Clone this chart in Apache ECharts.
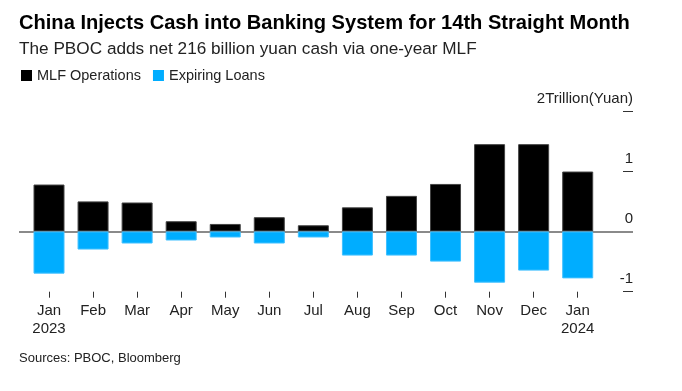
<!DOCTYPE html>
<html>
<head>
<meta charset="utf-8">
<script src="https://cdn.jsdelivr.net/npm/echarts@6/dist/echarts.min.js"></script>
<style>html,body{margin:0;padding:0;background:#fff;}#c{width:682px;height:391px;}</style>
</head>
<body>
<div id="c"></div>
<script>
var months = ['Jan\n2023','Feb','Mar','Apr','May','Jun','Jul','Aug','Sep','Oct','Nov','Dec','Jan\n2024'];
var mlfOperations = [0.779, 0.499, 0.481, 0.170, 0.125, 0.237, 0.103, 0.401, 0.591, 0.789, 1.450, 1.450, 0.995];
var expiringLoans = [-0.700, -0.300, -0.200, -0.150, -0.100, -0.200, -0.100, -0.400, -0.400, -0.500, -0.850, -0.650, -0.779];
var yTicks = [-1, 0, 1, 2];

var idx = months.map(function(_, i){ return i; });
var FONT = 'Liberation Sans, Arial, sans-serif';
var chart = echarts.init(document.getElementById('c'), null, {renderer:'canvas'});
chart.setOption({
  animation: false,
  backgroundColor: '#fff',
  textStyle: {fontFamily: FONT},
  title: [
    {text: 'China Injects Cash into Banking System for 14th Straight Month', left: 19, top: 13, padding: 0,
     textStyle: {fontFamily: FONT, fontSize: 20.1, fontWeight: 'bold', color: '#000'}},
    {text: 'The PBOC adds net 216 billion yuan cash via one-year MLF', left: 19, top: 41, padding: 0,
     textStyle: {fontFamily: FONT, fontSize: 17.2, fontWeight: 'normal', color: '#222'}},
    {text: 'Sources: PBOC, Bloomberg', left: 19, top: 352, padding: 0,
     textStyle: {fontFamily: FONT, fontSize: 13, fontWeight: 'normal', color: '#222'}}
  ],
  legend: {
    left: 21, top: 68, padding: 0, itemWidth: 11, itemHeight: 11, itemGap: 12, icon: 'rect',
    itemStyle: {borderWidth: 0},
    textStyle: {fontFamily: FONT, fontSize: 14.5, color: '#222'},
    data: ['MLF Operations', 'Expiring Loans']
  },
  grid: {left: 19, right: 49, top: 111, bottom: 99.3, containLabel: false},
  xAxis: {
    type: 'value', min: -0.681, max: 13.255,
    splitLine: {show: false},
    axisLine: {show: true, onZero: false, lineStyle: {opacity: 0}},
    axisTick: {show: true, length: 6, lineStyle: {color: '#333', width: 1}, customValues: idx},
    axisLabel: {show: true, customValues: idx, margin: 10, fontSize: 15, lineHeight: 18, color: '#222',
      formatter: function(v){ return months[Math.round(v)]; }}
  },
  yAxis: {
    type: 'value', position: 'right', min: -1, max: 2, interval: 1,
    splitLine: {show: false},
    axisLine: {show: true, onZero: false, lineStyle: {opacity: 0}},
    axisTick: {show: true, inside: true, length: 10, lineStyle: {color: '#333', width: 1}},
    axisLabel: {inside: true, margin: 0, align: 'right', verticalAlign: 'bottom', padding: [0,0,5,0],
      fontSize: 15, color: '#222',
      formatter: function(v){ return v === 2 ? '2Trillion(Yuan)' : String(v); }}
  },
  series: [
    {name: 'zero', type: 'line', data: [], z: 1, silent: true,
     markLine: {silent: true, symbol: 'none', label: {show: false}, z: 1,
       lineStyle: {color: '#8a8a8a', width: 2, type: 'solid'}, data: [{yAxis: 0}]}},
    {name: 'MLF Operations', type: 'bar', stack: 'total', barWidth: 31, z: 3,
     itemStyle: {color: '#000', borderColor: '#444', borderWidth: 1},
     data: mlfOperations.map(function(v, i){ return [i, v]; })},
    {name: 'Expiring Loans', type: 'bar', stack: 'total', barWidth: 31, z: 3,
     itemStyle: {color: '#00adff', borderColor: '#40c0ff', borderWidth: 1},
     data: expiringLoans.map(function(v, i){ return [i, v]; })}
  ]
});
</script>
</body>
</html>
